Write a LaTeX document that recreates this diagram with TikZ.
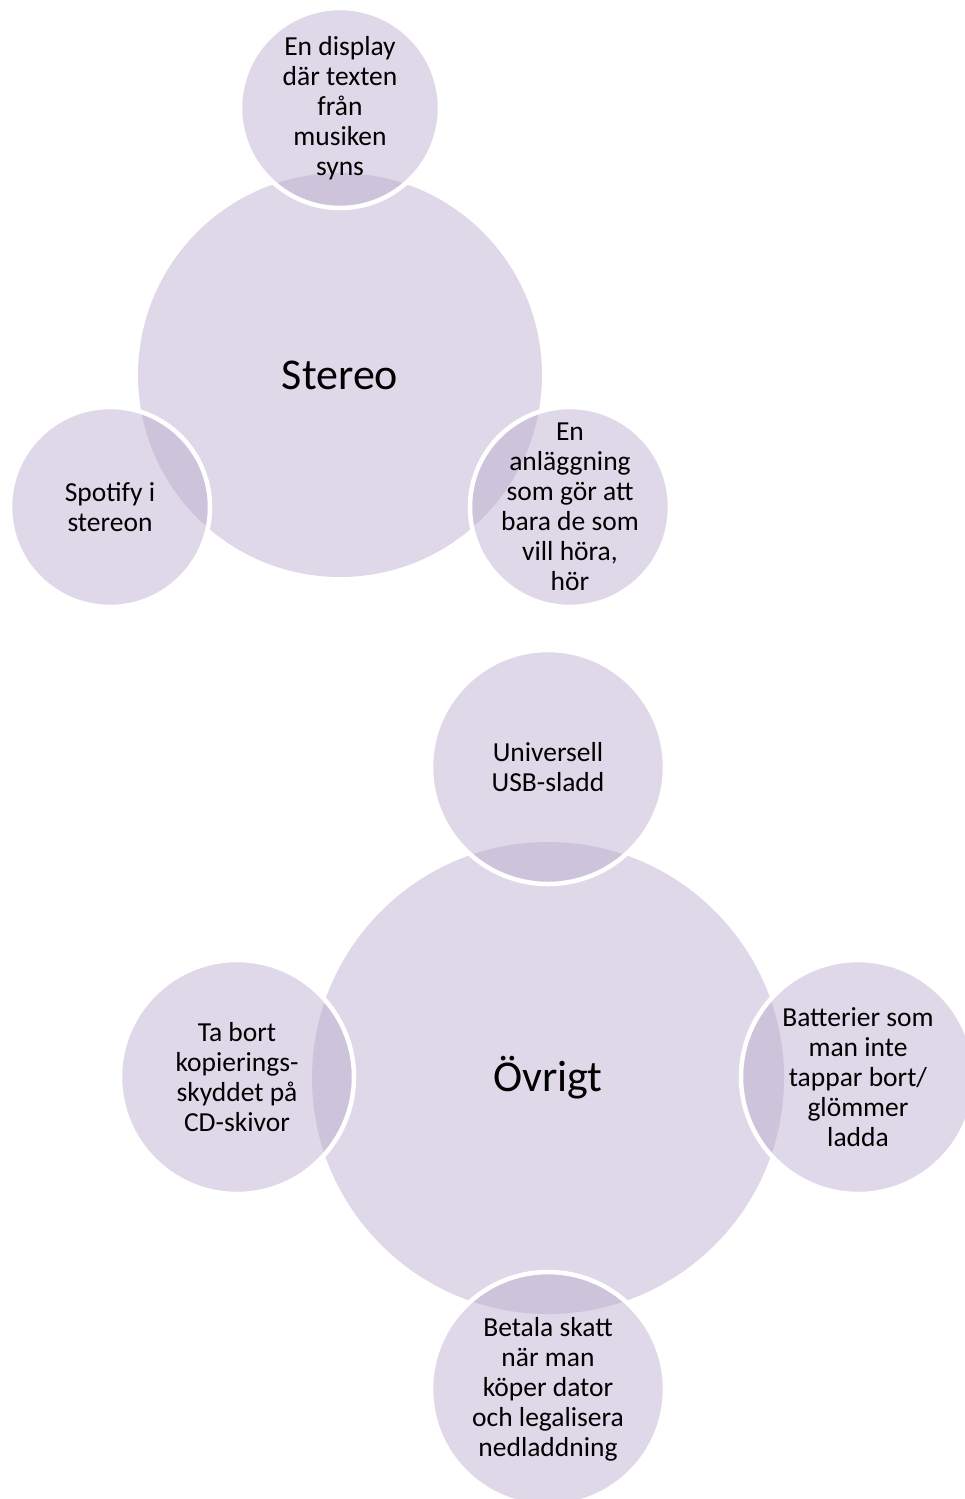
\documentclass[tikz,border=0pt]{standalone}
\usepackage{fontspec}
\setmainfont{Carlito}
\definecolor{lav}{RGB}{189,177,209}
\tikzset{
  hub/.style={circle, fill=lav, fill opacity=0.5, inner sep=0pt, minimum size=#1},
  sat/.style={circle, fill=lav, fill opacity=0.5, draw=white, draw opacity=1, line width=4.5pt, inner sep=0pt, minimum size=#1},
  hubtext/.style={inner sep=0pt, text=black, font=\fontsize{44}{48}\selectfont},
  sattext/.style={inner sep=0pt, text=black, align=center, font=\fontsize{27.5}{30}\selectfont}
}
\begin{document}
\begin{tikzpicture}[x=1pt,y=-1pt]
\useasboundingbox (0,0) rectangle (965,1499);
\clip (0,0) rectangle (965,1499);
% ---- Stereo cluster ----
\node[hub=404pt] (stereo) at (340,375) {};
\node[sat=200pt] (s1) at (340,108) {};
\node[sat=200pt] (s2) at (570,507) {};
\node[sat=200pt] (s3) at (110,507) {};
\node[hubtext] (stereoT) at (stereo) {Stereo};
\node[sattext] (s1T) at (s1) {En display\\där texten\\från\\musiken\\syns};
\node[sattext] (s2T) at (s2) {En\\anläggning\\som gör att\\bara de som\\vill höra,\\hör};
\node[sattext] (s3T) at (s3) {Spotify i\\stereon};
% ---- Övrigt cluster ----
\node[hub=472pt] (ovr) at (548,1078) {};
\node[sat=234pt] (o1) at (548,767) {};
\node[sat=234pt] (o2) at (858,1077) {};
\node[sat=234pt] (o3) at (548,1389) {};
\node[sat=234pt] (o4) at (237,1077) {};
\node[hubtext] (ovrT) at (ovr) {Övrigt};
\node[sattext] (o1T) at (o1) {Universell\\USB-sladd};
\node[sattext] (o2T) at (o2) {Batterier som\\man inte\\tappar bort/\\glömmer\\ladda};
\node[sattext] (o3T) at (o3) {Betala skatt\\när man\\köper dator\\och legalisera\\nedladdning};
\node[sattext] (o4T) at (o4) {Ta bort\\kopierings-\\skyddet på\\CD-skivor};
\end{tikzpicture}
\end{document}
